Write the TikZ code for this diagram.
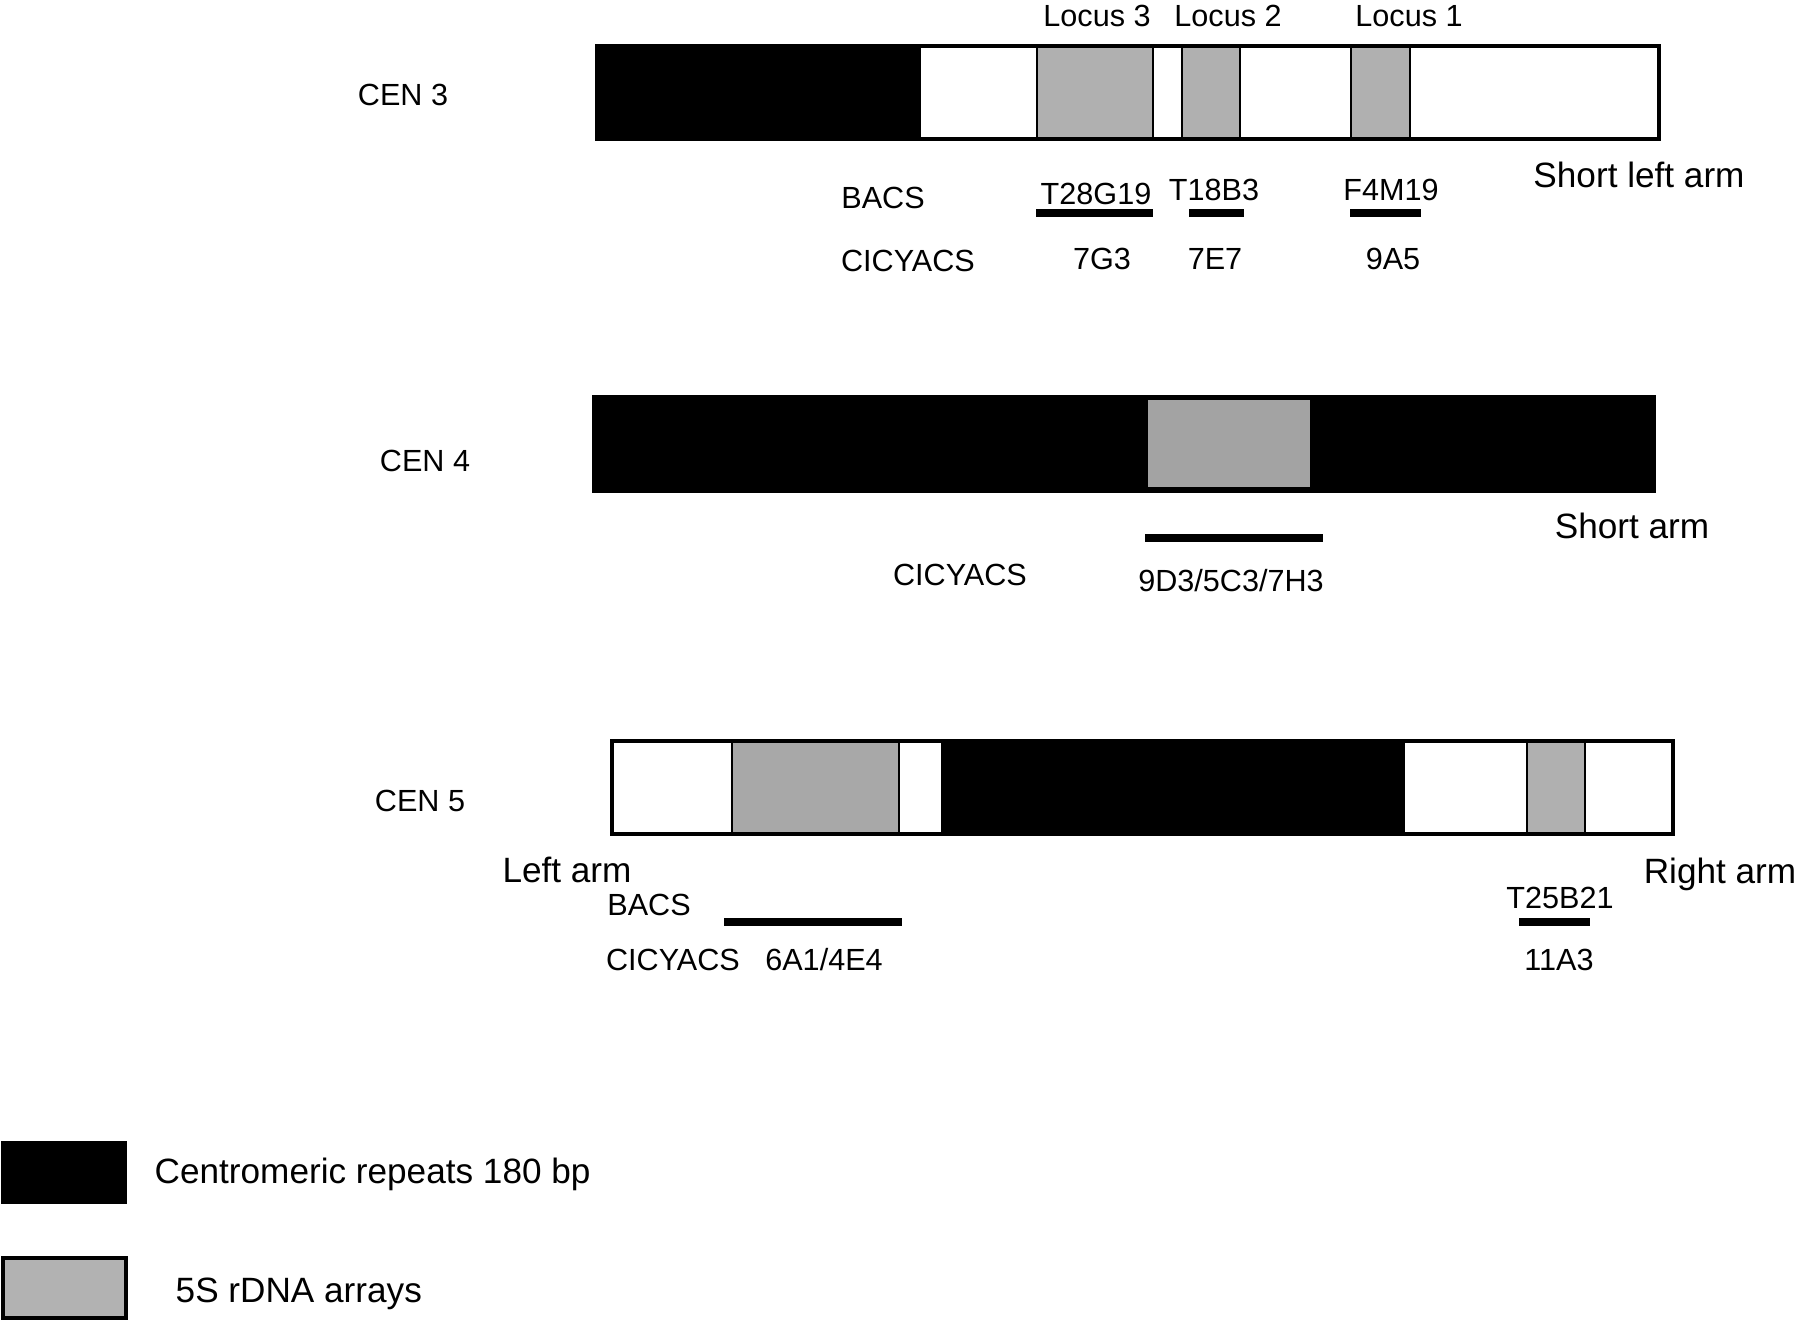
\documentclass[tikz,border=0pt]{standalone}
\usepackage{fontspec}
\setmainfont{Liberation Sans}
\begin{document}
\begin{tikzpicture}[x=0.01cm,y=-0.01cm,
  chrom/.style={draw=black,line width=0.9pt},
  cenfill/.style={fill=black},
  rdna/.style={fill=black!31,draw=black,line width=0.6pt},
  probe/.style={line width=2.2pt},
  lab/.style={font=\fontsize{8.7}{10}\selectfont,inner sep=0pt,anchor=base},
  biglab/.style={font=\fontsize{10}{12}\selectfont,inner sep=0pt,anchor=base}]
\useasboundingbox (0,0) rectangle (1800,1321);

% ---------------- CEN 3 ----------------
\node[lab] (cen3) at (403,105) {CEN 3};
\fill[white] (597,46) rectangle (1659,139);
\fill[cenfill] (597,46) rectangle (921,139);
\draw[rdna] (1037,46) rectangle (1153,139);
\draw[rdna] (1182,46) rectangle (1240,139);
\draw[rdna] (1351,46) rectangle (1410,139);
\draw[chrom] (597,46) rectangle (1659,139);
\node[lab] (l3) at (1097,27) {Locus 3};
\node[lab] (l2) at (1228,27) {Locus 2};
\node[lab] (l1) at (1409,27) {Locus 1};
\node[biglab] (sla) at (1639,187) {Short left arm};
\node[lab] (bacs3) at (883,208) {BACS};
\node[lab] (t28) at (1096,204) {T28G19};
\node[lab] (t18) at (1214,200) {T18B3};
\node[lab] (f4m) at (1391,200) {F4M19};
\coordinate (a1) at (1036,213); \coordinate (a2) at (1153,213);
\coordinate (b1) at (1189,213); \coordinate (b2) at (1244,213);
\coordinate (c1) at (1350,213); \coordinate (c2) at (1421,213);
\draw[probe] (a1) -- (a2);
\draw[probe] (b1) -- (b2);
\draw[probe] (c1) -- (c2);
\node[lab] (cic3) at (908,271) {CICYACS};
\node[lab] (y7g3) at (1102,269) {7G3};
\node[lab] (y7e7) at (1215,269) {7E7};
\node[lab] (y9a5) at (1393,269) {9A5};

% ---------------- CEN 4 ----------------
\node[lab] (cen4) at (425,471) {CEN 4};
\fill[cenfill] (594,397) rectangle (1654,491);
\fill[black!36] (1148,400) rectangle (1310,487);
\draw[chrom] (594,397) rectangle (1654,491);
\node[biglab] (sa) at (1632,538) {Short arm};
\coordinate (d1) at (1145,538); \coordinate (d2) at (1323,538);
\draw[probe] (d1) -- (d2);
\node[lab] (cic4) at (960,585) {CICYACS};
\node[lab] (y9d3) at (1231,591) {9D3/5C3/7H3};

% ---------------- CEN 5 ----------------
\node[lab] (cen5) at (420,811) {CEN 5};
\fill[white] (612,741) rectangle (1673,834);
\draw[rdna,fill=black!34] (732,741) rectangle (899,834);
\fill[cenfill] (941,741) rectangle (1405,834);
\draw[rdna] (1527,741) rectangle (1585,834);
\draw[chrom] (612,741) rectangle (1673,834);
\node[biglab] (la) at (567,882) {Left arm};
\node[biglab] (ra) at (1720,883) {Right arm};
\node[lab] (bacs5) at (649,915) {BACS};
\node[lab] (t25) at (1560,908) {T25B21};
\coordinate (e1) at (724,922); \coordinate (e2) at (902,922);
\coordinate (f1) at (1519,922); \coordinate (f2) at (1590,922);
\draw[probe] (e1) -- (e2);
\draw[probe] (f1) -- (f2);
\node[lab] (cic5) at (673,970) {CICYACS};
\node[lab] (y6a1) at (824,970) {6A1/4E4};
\node[lab] (y11a3) at (1559,970) {11A3};

% ---------------- Legend ----------------
\draw[fill=black,line width=0.6pt] (2,1142) rectangle (126,1203);
\node[biglab,anchor=base west] (legc) at (154,1183) {Centromeric repeats 180 bp};
\draw[fill=black!30,line width=1pt] (3,1258) rectangle (126,1318);
\node[biglab,anchor=base west] (legr) at (175,1302) {5S rDNA arrays};
\end{tikzpicture}
\end{document}
